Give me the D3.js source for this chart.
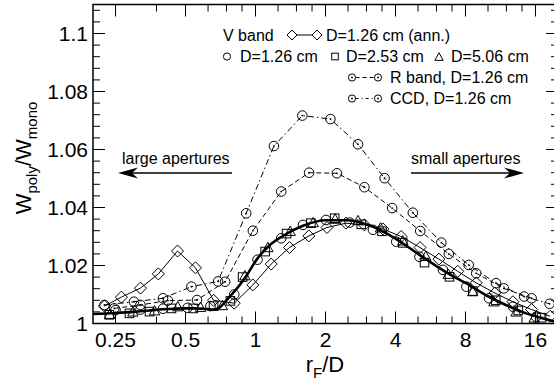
<!DOCTYPE html>
<html>
<head>
<meta charset="utf-8">
<script src="https://cdn.jsdelivr.net/npm/d3@7"></script>
<style>
  body { margin: 0; background: #fff; }
  svg { display: block; font-family: "Liberation Sans", Arial, sans-serif; }
</style>
</head>
<body>
<div id="chart"></div>
<script>
// tick labels
var xMajor = [0.25, 0.5, 1, 2, 4, 8, 16];
var xMinor = [0.375, 0.625, 0.75, 0.875, 1.25, 1.5, 1.75, 2.5, 3, 3.5, 5, 6, 7, 10, 12, 14];
var yMajor = [1, 1.02, 1.04, 1.06, 1.08, 1.1];

// V band, D=1.26 cm (circles)
var vX = [0.25, 0.32, 0.40, 0.51, 0.64, 0.81, 1.02, 1.29, 1.6, 2.01, 2.54, 3.2, 4.03, 5.07, 6.4, 8.07, 10.1, 12.8, 16.1];
var vY = [1.0046, 1.0048, 1.0051, 1.0054, 1.0060, 1.0100, 1.0220, 1.0294, 1.0340, 1.0357, 1.0348, 1.0323, 1.0282, 1.0230, 1.0185, 1.0127, 1.0087, 1.0058, 1.0023];

// D=2.53 cm (squares)
var sqX = [0.235, 0.287, 0.35, 0.435, 0.54, 0.66, 0.78, 0.88, 1.10, 1.36, 1.73, 2.19, 2.85, 3.5, 4.3, 5.33, 6.83, 8.6, 10.8, 13.5, 17.0];
var sqY = [1.0030, 1.0035, 1.0041, 1.0052, 1.0052, 1.0060, 1.0078, 1.0160, 1.0248, 1.0310, 1.0346, 1.0363, 1.0342, 1.0318, 1.0278, 1.0210, 1.0161, 1.0112, 1.0080, 1.0045, 1.0020];

// D=5.06 cm (triangles)
var trX = [0.236, 0.297, 0.368, 0.463, 0.58, 0.72, 0.90, 1.13, 1.41, 1.77, 2.2, 2.76, 3.45, 4.3, 5.4, 6.75, 8.6, 10.6, 13.2, 15.8];
var trY = [1.0032, 1.0040, 1.0044, 1.0058, 1.0056, 1.0062, 1.0165, 1.0262, 1.0318, 1.0348, 1.0360, 1.0355, 1.0330, 1.0285, 1.0232, 1.0170, 1.0110, 1.0075, 1.0040, 1.0019];

// V band, D=1.26 cm annulus (diamonds)
var annX = [0.224, 0.265, 0.32, 0.382, 0.462, 0.552, 0.66, 0.81, 0.974, 1.168, 1.40, 1.696, 2.03, 2.45, 2.94, 3.53, 4.23, 5.1, 6.15, 7.41, 8.9, 10.7, 12.8, 15.4, 18.5];
var annY = [1.0060, 1.0091, 1.0122, 1.0171, 1.0250, 1.0192, 1.0080, 1.0070, 1.0133, 1.0205, 1.0262, 1.0302, 1.0331, 1.0346, 1.0340, 1.0326, 1.0300, 1.0262, 1.0222, 1.0180, 1.0140, 1.0105, 1.0075, 1.0048, 1.0025];

// R band, D=1.26 cm (dashed)
var rX = [0.247, 0.32, 0.42, 0.56, 0.74, 0.974, 1.29, 1.70, 2.24, 2.94, 3.87, 5.11, 6.78, 8.9, 11.7, 15.4];
var rY = [1.0052, 1.0064, 1.0079, 1.0081, 1.0144, 1.0320, 1.0455, 1.0520, 1.0518, 1.0470, 1.0398, 1.0319, 1.0240, 1.0173, 1.0121, 1.0087];

// CCD, D=1.26 cm (dash-dot)
var ccdX = [0.224, 0.30, 0.40, 0.53, 0.69, 0.912, 1.20, 1.59, 2.10, 2.76, 3.59, 4.75, 6.3, 8.26, 10.83, 14.3, 18.4];
var ccdY = [1.0064, 1.0075, 1.0087, 1.0127, 1.0145, 1.0380, 1.0612, 1.0717, 1.0705, 1.0618, 1.0501, 1.0382, 1.0279, 1.0202, 1.0139, 1.0093, 1.0068];

// unlabelled thick curve
var thX = [0.2, 0.25, 0.3, 0.35, 0.4, 0.45, 0.5, 0.55, 0.6, 0.65, 0.7, 0.75, 0.85, 0.92, 1.0, 1.15, 1.3, 1.6, 2.0, 2.5, 3.0, 4.0, 5.0, 6.0, 7.0, 8.0, 10, 12, 14, 16, 20];
var thY = [1.0033, 1.0036, 1.0040, 1.0045, 1.0049, 1.0051, 1.0052, 1.0052, 1.0051, 1.0048, 1.0055, 1.0080, 1.0130, 1.0168, 1.0215, 1.0270, 1.0300, 1.0337, 1.0356, 1.0356, 1.0342, 1.0293, 1.0240, 1.0198, 1.0165, 1.0140, 1.0094, 1.0063, 1.0040, 1.0025, 1.0004];

function zip(xs, ys) {
    return xs.map(function(x, i) { return [x, ys[i]]; });
}

var width = 554,
    height = 383,
    pL = 93, pR = 558, pT = 4.5, pB = 323.5;

var x = d3.scaleLog().base(2).domain([0.2, 20]).range([pL, pR]);
var y = d3.scaleLinear().domain([1, 1.11]).range([pB, pT]);

var svg = d3.select("#chart").append("svg")
    .attr("width", width)
    .attr("height", height);

// ticks on all four sides, pointing inward
function xTicks(vals, len) {
    vals.forEach(function(v) {
        svg.append("line").attr("x1", x(v)).attr("x2", x(v))
            .attr("y1", pB).attr("y2", pB - len)
            .attr("stroke", "#000").attr("stroke-width", 1);
        svg.append("line").attr("x1", x(v)).attr("x2", x(v))
            .attr("y1", pT).attr("y2", pT + len)
            .attr("stroke", "#000").attr("stroke-width", 1);
    });
}
xTicks(xMajor, 12);
xTicks(xMinor, 7);

var yMinor = d3.range(1.004, 1.11, 0.004).filter(function(v) {
    return Math.abs(Math.round(v / 0.02) * 0.02 - v) > 1e-6;
});
function yTicks(vals, len) {
    vals.forEach(function(v) {
        svg.append("line").attr("x1", pL).attr("x2", pL + len)
            .attr("y1", y(v)).attr("y2", y(v))
            .attr("stroke", "#000").attr("stroke-width", 1);
        svg.append("line").attr("x1", pR).attr("x2", pR - len)
            .attr("y1", y(v)).attr("y2", y(v))
            .attr("stroke", "#000").attr("stroke-width", 1);
    });
}
yTicks(yMajor, 12);
yTicks(yMinor, 7);

// tick labels
svg.append("g").selectAll("text")
    .data(xMajor)
    .enter().append("text")
    .attr("x", function(d) { return x(d); })
    .attr("y", 347)
    .attr("text-anchor", "middle")
    .style("font-size", "21px")
    .text(function(d) { return d; });

svg.append("g").selectAll("text")
    .data(yMajor)
    .enter().append("text")
    .attr("x", 88)
    .attr("y", function(d) { return y(d) + 7.5; })
    .attr("text-anchor", "end")
    .style("font-size", "21px")
    .text(function(d) { return d3.format("")(+d.toFixed(2)); });

// axis titles
var xt = svg.append("text")
    .attr("x", 325).attr("y", 372)
    .attr("text-anchor", "middle")
    .style("font-size", "22px");
xt.append("tspan").text("r");
xt.append("tspan").attr("dy", 6).style("font-size", "15px").text("F");
xt.append("tspan").attr("dy", -6).text("/D");

var yt = svg.append("text")
    .attr("transform", "translate(31,158) rotate(-90)")
    .attr("text-anchor", "middle")
    .style("font-size", "22px");
yt.append("tspan").text("W");
yt.append("tspan").attr("dy", 6).style("font-size", "15px").text("poly");
yt.append("tspan").attr("dy", -6).text("/W");
yt.append("tspan").attr("dy", 6).style("font-size", "15px").text("mono");

// plot area clip
svg.append("clipPath").attr("id", "clip")
    .append("rect").attr("x", pL).attr("y", pT)
    .attr("width", pR - pL).attr("height", pB - pT);

var plot = svg.append("g").attr("clip-path", "url(#clip)");

var line = d3.line()
    .x(function(d) { return x(d[0]); })
    .y(function(d) { return y(d[1]); });

var smooth = d3.line()
    .curve(d3.curveMonotoneX)
    .x(function(d) { return x(d[0]); })
    .y(function(d) { return y(d[1]); });

// lines
plot.append("path").datum(zip(thX, thY))
    .attr("d", smooth).attr("fill", "none")
    .attr("stroke", "#000").attr("stroke-width", 2.6);

plot.append("path").datum(zip(annX, annY))
    .attr("d", line).attr("fill", "none")
    .attr("stroke", "#000").attr("stroke-width", 1);

plot.append("path").datum(zip(rX, rY))
    .attr("d", line).attr("fill", "none")
    .attr("stroke", "#000").attr("stroke-width", 1)
    .attr("stroke-dasharray", "5,3");

plot.append("path").datum(zip(ccdX, ccdY))
    .attr("d", line).attr("fill", "none")
    .attr("stroke", "#000").attr("stroke-width", 1)
    .attr("stroke-dasharray", "6,3,1.5,3");

// marker shapes
function circle(g, cx, cy, r, dot) {
    g.append("circle").attr("cx", cx).attr("cy", cy).attr("r", r)
        .attr("fill", "none").attr("stroke", "#000").attr("stroke-width", 1);
    if (dot) {
        g.append("circle").attr("cx", cx).attr("cy", cy).attr("r", 0.9).attr("fill", "#000");
    }
}
function square(g, cx, cy, s) {
    g.append("rect").attr("x", cx - s).attr("y", cy - s)
        .attr("width", 2 * s).attr("height", 2 * s)
        .attr("fill", "none").attr("stroke", "#000").attr("stroke-width", 1);
}
function diamond(g, cx, cy, s) {
    g.append("path")
        .attr("d", "M" + (cx - s) + "," + cy + "L" + cx + "," + (cy - s) +
            "L" + (cx + s) + "," + cy + "L" + cx + "," + (cy + s) + "Z")
        .attr("fill", "none").attr("stroke", "#000").attr("stroke-width", 1);
}
function triangle(g, cx, cy, s) {
    g.append("path")
        .attr("d", "M" + (cx - s) + "," + (cy + s * 0.8) + "L" + cx + "," + (cy - s) +
            "L" + (cx + s) + "," + (cy + s * 0.8) + "Z")
        .attr("fill", "none").attr("stroke", "#000").attr("stroke-width", 1);
}

zip(vX, vY).forEach(function(d) { circle(plot, x(d[0]), y(d[1]), 4.8, false); });
zip(sqX, sqY).forEach(function(d) { square(plot, x(d[0]), y(d[1]), 4.3); });
zip(trX, trY).forEach(function(d) { triangle(plot, x(d[0]), y(d[1]), 5.2); });
zip(annX, annY).forEach(function(d) { diamond(plot, x(d[0]), y(d[1]), 6); });
zip(rX, rY).forEach(function(d) { circle(plot, x(d[0]), y(d[1]), 4.8, true); });
zip(ccdX, ccdY).forEach(function(d) { circle(plot, x(d[0]), y(d[1]), 4.8, true); });

// frame
svg.append("rect")
    .attr("x", pL).attr("y", pT)
    .attr("width", pR - pL).attr("height", pB - pT)
    .attr("fill", "none").attr("stroke", "#000").attr("stroke-width", 1.5);

// legend
var lg = svg.append("g").style("font-size", "16px");
lg.append("text").attr("x", 223).attr("y", 40.5).text("V band");
diamond(lg, 292, 35, 5);
lg.append("line").attr("x1", 297).attr("x2", 312).attr("y1", 35).attr("y2", 35)
    .attr("stroke", "#000").attr("stroke-width", 1);
diamond(lg, 317, 35, 5);
lg.append("text").attr("x", 326).attr("y", 40.5).text("D=1.26 cm (ann.)");

circle(lg, 227, 56.5, 3.6, false);
lg.append("text").attr("x", 240).attr("y", 62).text("D=1.26 cm");
square(lg, 335, 56.5, 3.3);
lg.append("text").attr("x", 346).attr("y", 62).text("D=2.53 cm");
triangle(lg, 439, 57, 4.2);
lg.append("text").attr("x", 451).attr("y", 62).text("D=5.06 cm");

circle(lg, 352, 77.5, 3.6, true);
lg.append("line").attr("x1", 355.6).attr("x2", 374.4).attr("y1", 77.5).attr("y2", 77.5)
    .attr("stroke", "#000").attr("stroke-width", 1).attr("stroke-dasharray", "4,3");
circle(lg, 378, 77.5, 3.6, true);
lg.append("text").attr("x", 390).attr("y", 83).text("R band, D=1.26 cm");

circle(lg, 352, 98.5, 3.6, true);
lg.append("line").attr("x1", 355.6).attr("x2", 374.4).attr("y1", 98.5).attr("y2", 98.5)
    .attr("stroke", "#000").attr("stroke-width", 1).attr("stroke-dasharray", "3,3,1,3");
circle(lg, 378, 98.5, 3.6, true);
lg.append("text").attr("x", 390).attr("y", 104).text("CCD, D=1.26 cm");

// aperture arrows
function arrow(x1, x2, yy) {
    var dir = x2 > x1 ? 1 : -1;
    svg.append("line").attr("x1", x1).attr("x2", x2 - dir * 12)
        .attr("y1", yy).attr("y2", yy)
        .attr("stroke", "#000").attr("stroke-width", 1.3);
    svg.append("path")
        .attr("d", "M" + x2 + "," + yy +
            "L" + (x2 - dir * 20) + "," + (yy - 5.5) +
            "L" + (x2 - dir * 14) + "," + yy +
            "L" + (x2 - dir * 20) + "," + (yy + 5.5) + "Z")
        .attr("fill", "#000");
}
svg.append("text").attr("x", 122).attr("y", 164).style("font-size", "16px").text("large apertures");
arrow(232, 118, 173);
svg.append("text").attr("x", 411).attr("y", 164).style("font-size", "16px").text("small apertures");
arrow(411, 524, 173);
</script>
</body>
</html>
